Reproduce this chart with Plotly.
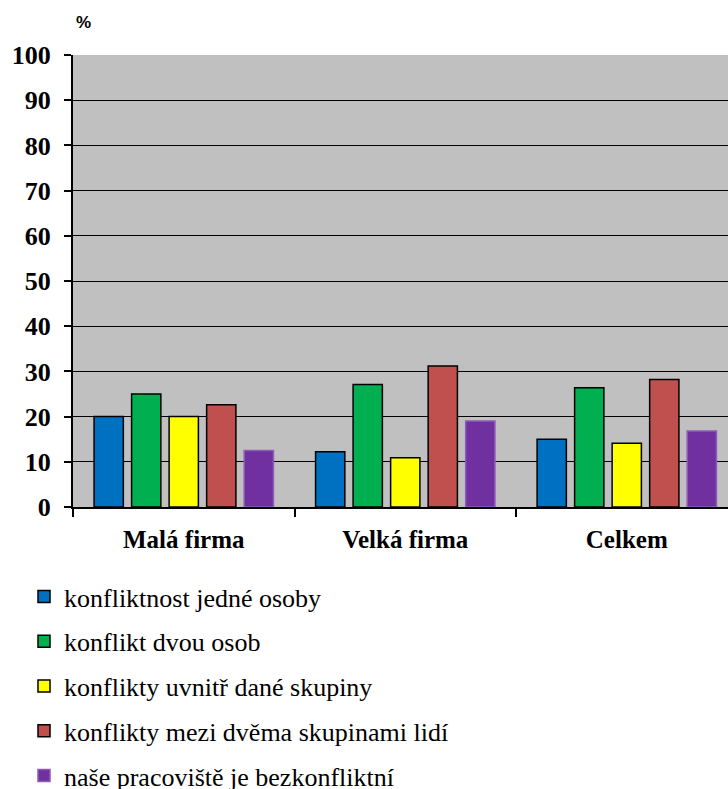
import plotly.graph_objects as go

categories = ["Malá firma", "Velká firma", "Celkem"]
series_names = [
    "konfliktnost jedné osoby",
    "konflikt dvou osob",
    "konflikty uvnitř dané skupiny",
    "konflikty mezi dvěma skupinami lidí",
    "naše pracoviště je bezkonfliktní",
]
values_jedna = [20.0, 12.2, 15.0]
values_dvou = [25.0, 27.1, 26.4]
values_uvnitr = [20.0, 10.9, 14.1]
values_mezi = [22.6, 31.2, 28.2]
values_bez = [12.5, 19.0, 16.8]
y_ticks = [0, 10, 20, 30, 40, 50, 60, 70, 80, 90, 100]

colors = ["#0070C0", "#00B050", "#FFFF00", "#C0504D", "#7030A0"]
line_colors = ["#000000", "#000000", "#000000", "#000000", "#8E5CB8"]
all_values = [values_jedna, values_dvou, values_uvnitr, values_mezi, values_bez]

SERIF = "Liberation Serif"

fig = go.Figure()
for i, (name, vals) in enumerate(zip(series_names, all_values)):
    fig.add_trace(go.Bar(
        x=categories, y=vals, name=name,
        marker=dict(color=colors[i], line=dict(color=line_colors[i], width=1.5)),
        legendgroup=f"g{i}",
    ))

fig.update_layout(
    width=728, height=789,
    font=dict(family=SERIF, color="black"),
    margin=dict(l=73, r=0, t=55, b=282, autoexpand=False),
    paper_bgcolor="white",
    plot_bgcolor="#C0C0C0",
    barmode="group",
    bargap=0.153,
    bargroupgap=0.22,
    showlegend=True,
    legend=dict(
        xref="paper", yref="paper",
        x=(24 - 73) / 655, y=-(573 - 507) / 452, xanchor="left", yanchor="top",
        font=dict(family="Times New Roman", size=26, color="black", weight="normal"),
        tracegroupgap=8,
        itemwidth=30,
        bgcolor="rgba(0,0,0,0)",
    ),
    annotations=[dict(
        text="<b>%</b>", xref="paper", yref="paper",
        x=(83 - 73) / 655, y=1 + (55 - 23) / 452,
        xanchor="center", yanchor="middle", showarrow=False,
        font=dict(family="Liberation Sans", size=17, color="black"),
    )],
)

fig.update_yaxes(
    range=[0, 100], tickvals=y_ticks, ticktext=[str(v) for v in y_ticks],
    showgrid=True, gridcolor="black", gridwidth=1,
    showline=True, linecolor="black", linewidth=2,
    ticks="outside", ticklen=7, tickwidth=2, tickcolor="black",
    ticklabelstandoff=8,
    tickfont=dict(family=SERIF, size=26, color="black", weight="bold"),
    zeroline=False, fixedrange=True,
)
fig.update_xaxes(
    range=[-0.5, 2.457], tickangle=0,
    showline=True, linecolor="black", linewidth=2,
    ticks="outside", tickson="boundaries", ticklen=8, tickwidth=1.5, tickcolor="black",
    ticklabelstandoff=9,
    tickfont=dict(family=SERIF, size=25, color="black", weight="bold"),
    showgrid=False, fixedrange=True,
)

fig.write_html("out.html")
